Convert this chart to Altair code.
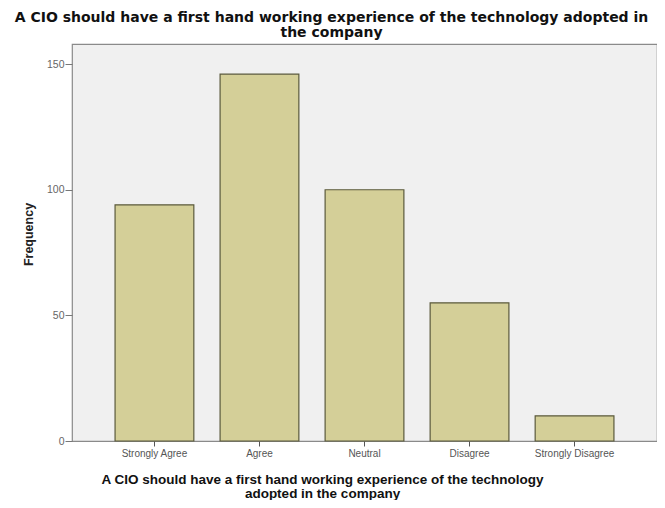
import altair as alt
import pandas as pd

categories = ["Strongly Agree", "Agree", "Neutral", "Disagree", "Strongly Disagree"]
frequencies = [94, 146, 100, 55, 10]
y_ticks = [0, 50, 100, 150]

title_lines = ["A CIO should have a first hand working experience of the technology adopted in",
               "the company"]
x_title_lines = ["A CIO should have a first hand working experience of the technology",
                 "adopted in the company"]

df = pd.DataFrame({"cat": categories, "freq": frequencies})

FONT = "Liberation Sans"

chart = alt.Chart(df).mark_bar(
    fill="#D4CF98", stroke="#5b5a3c", strokeWidth=1.2
).encode(
    x=alt.X("cat:N", sort=categories,
            scale=alt.Scale(paddingInner=0.25, paddingOuter=0.41),
            axis=alt.Axis(title=x_title_lines, labelAngle=0, labelFontSize=10,
                          labelColor="#555555", labelFont=FONT, labelPadding=2,
                          tickSize=5, tickColor="#555555", domain=False,
                          titleFont=FONT, titleFontSize=13.5, titleFontWeight="bold",
                          titleColor="#111111", titleLineHeight=14,
                          titleX=250, titleY=31, titleAnchor="start", titleAlign="center",
                          titleBaseline="top")),
    y=alt.Y("freq:Q", scale=alt.Scale(domain=[0, 158], nice=False),
            axis=alt.Axis(title="Frequency", values=y_ticks, grid=False, domain=False,
                          labelFontSize=10.5, labelColor="#666666", labelFont=FONT,
                          tickSize=7, tickColor="#777777", labelPadding=1,
                          titleFont=FONT, titleFontSize=12.5, titleFontWeight="bold",
                          titleColor="#222222", titleAngle=270, titleX=-44, titleY=190,
                          titleAlign="center", titleBaseline="middle")),
).properties(
    width=585, height=397,
    title=alt.TitleParams(text=title_lines, font="DejaVu Sans", fontSize=14, fontWeight="bold",
                          color="#111111", anchor="middle", frame="group", dx=-33,
                          lineHeight=15, offset=4),
    autosize=alt.AutoSizeParams(type="none"),
    padding={"left": 64, "top": 36, "right": 0, "bottom": 59},
).configure_view(
    fill="#F0F0F0", stroke="#8a8a8a", strokeWidth=1.2
)

chart.save("out.html", embed_options={"renderer": "svg", "actions": False})
